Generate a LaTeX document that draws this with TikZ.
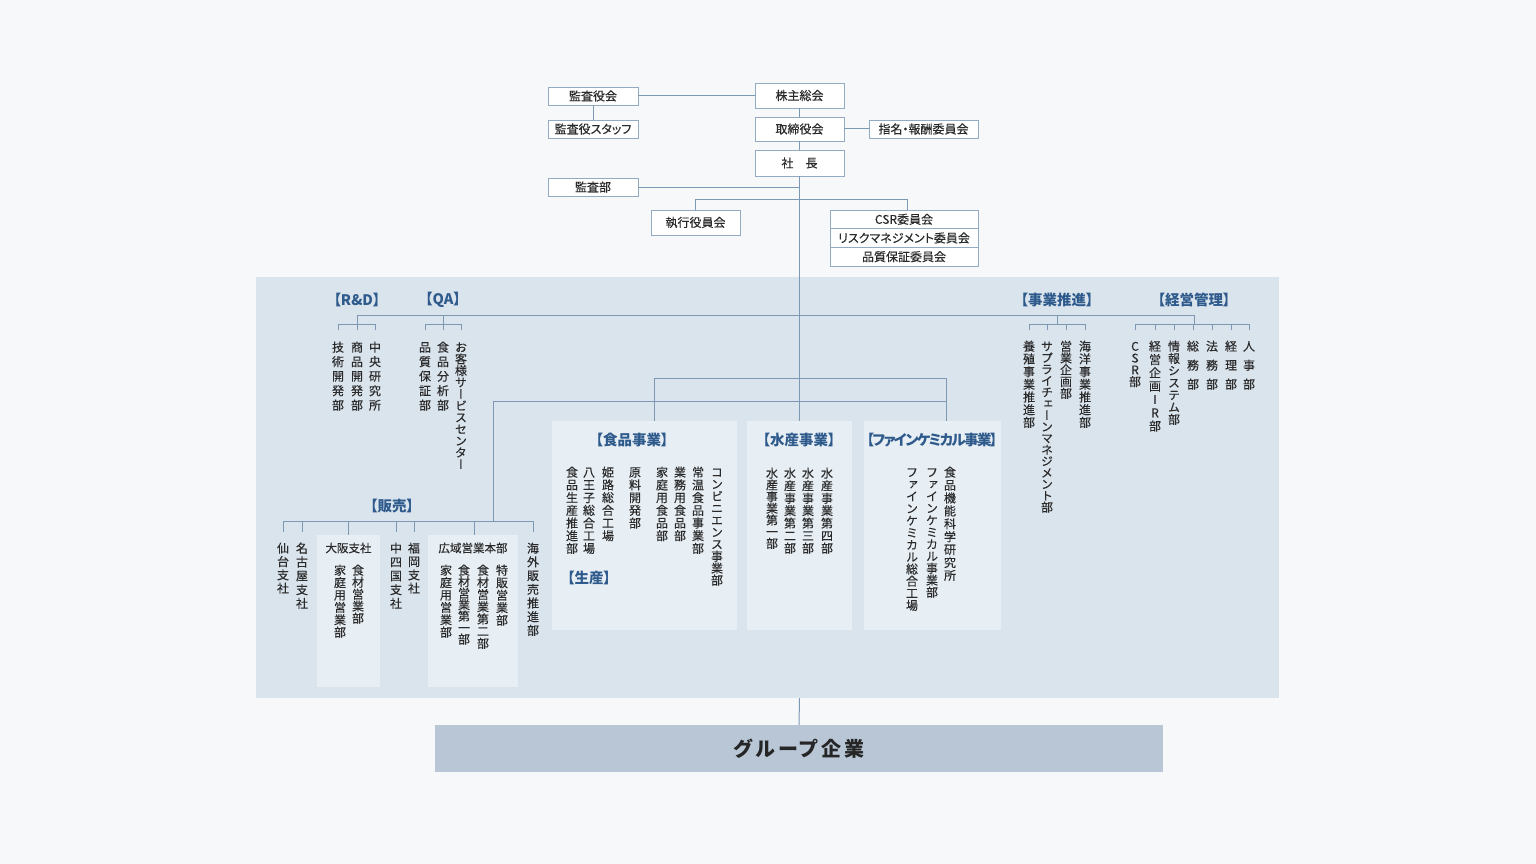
\documentclass[tikz,border=0pt]{standalone}
\usepackage{fontspec}
\setmainfont{Noto Sans CJK JP}
\newfontfamily\vjp[RawFeature=+vert,FakeBold=0.25]{Noto Sans CJK JP}
\newfontfamily\pjp[RawFeature=+palt]{Noto Sans CJK JP}
\newfontfamily\tjp[RawFeature=+palt,FakeBold=0.2]{Noto Sans CJK JP}
\definecolor{bgc}{HTML}{F7F8FA}
\definecolor{panelc}{HTML}{DAE4ED}
\definecolor{innerc}{HTML}{E7EEF4}
\definecolor{lnc}{HTML}{7D98B3}
\definecolor{boxb}{HTML}{93AAC3}
\definecolor{txtc}{HTML}{2A2A2A}
\definecolor{labc}{HTML}{2E5A8C}
\definecolor{grpc}{HTML}{B8C6D6}
\makeatletter
\newcommand\vt[2][12.7]{\vbox{\baselineskip=#1pt\lineskiplimit=-\maxdimen\lineskip=0pt\@tfor\vch:=#2\do{\hbox to 1em{\hss\vrule height .88em depth .12em width 0pt\vch\hss}}}}
\makeatother
\newcommand\vnode[5]{\node[vl] (#1) at (#2,#3-6) {\vt[#4]{#5}};}
\begin{document}
\begin{tikzpicture}[x=1pt,y=-1pt,
 ln/.style={draw=lnc,line width=1pt},
 tb/.style={draw=boxb,fill=white,line width=0.9pt,inner sep=0,text=txtc,font=\tjp\fontsize{12}{14}\selectfont},
 lab/.style={text=labc,inner sep=0,font=\pjp\bfseries\fontsize{14.5}{16}\selectfont},
 vl/.style={anchor=north,inner sep=0,text=txtc,font=\vjp\fontsize{12}{12}\selectfont},
 inbox/.style={fill=innerc,draw=none,inner sep=0},
 hl/.style={text=txtc,inner sep=0,font=\tjp\fontsize{11.5}{13}\selectfont}
]
\fill[bgc] (0,0) rectangle (1536,864);
\useasboundingbox (0,0) rectangle (1536,864);
% panel and inner boxes
\node[fill=panelc,minimum width=1023,minimum height=421,inner sep=0] (panel) at (767.5,487.5) {};
\node[inbox,minimum width=185,minimum height=209] (shokuhin) at (644.5,525.5) {};
\node[inbox,minimum width=105,minimum height=209] (suisan) at (799.5,525.5) {};
\node[inbox,minimum width=137,minimum height=209] (fine) at (932.5,525.5) {};
\node[inbox,minimum width=63,minimum height=152] (osaka) at (348.5,611) {};
\node[inbox,minimum width=90,minimum height=152] (koiki) at (473,611) {};
% top boxes
\node[tb,minimum width=90,minimum height=18] (kansayaku) at (593,96) {監査役会};
\node[tb,minimum width=90,minimum height=18] (kstaff) at (593,129) {監査役スタッフ};
\node[tb,minimum width=89,minimum height=25] (kabu) at (799.5,95.5) {株主総会};
\node[tb,minimum width=89,minimum height=24] (tori) at (799.5,129) {取締役会};
\node[tb,minimum width=109,minimum height=18] (shimei) at (923.5,129) {指名・報酬委員会};
\node[tb,minimum width=89,minimum height=26] (shacho) at (799.5,163) {社　長};
\node[tb,minimum width=90,minimum height=18] (kansabu) at (593,187) {監査部};
\node[tb,minimum width=89,minimum height=25] (shikko) at (695.5,222.5) {執行役員会};
\node[tb,minimum width=148,minimum height=18.7] (csr) at (904,219.3) {CSR委員会};
\node[tb,minimum width=148,minimum height=18.7] (risk) at (904,238) {リスクマネジメント委員会};
\node[tb,minimum width=148,minimum height=18.7] (hq) at (904,256.7) {品質保証委員会};
% group
\node[fill=grpc,minimum width=728,minimum height=47,inner sep=0,text=black!85,font=\pjp\bfseries\fontsize{20}{24}\selectfont\addfontfeature{LetterSpace=15}] (group) at (799,748.5) {グループ企業};
% top connectors
\draw[ln] (kansayaku.east) -- (kansayaku.east -| kabu.west);
\draw[ln] (kansayaku.south) -- (kstaff.north);
\draw[ln] (kabu.south) -- (tori.north);
\draw[ln] (tori.east) -- (shimei.west);
\draw[ln] (tori.south) -- (shacho.north);
\draw[ln] (kansabu.east) -- (kansabu.east -| shacho.south);
\coordinate (csrtop) at (907,209.95);
\draw[ln] (shikko.north) -- ++(0,-10) -| (csrtop);
\draw[ln] (shacho.south) -- (shacho.south |- suisan.north);
\draw[ln] (shacho.south |- panel.south) -- (group.north);
% labels
\node[lab] (rd) at (357,300) {【R\&D】};
\node[lab] (qa) at (443,300) {【QA】};
\node[lab] (js) at (1057,300) {【事業推進】};
\node[lab] (kk) at (1194,300) {【経営管理】};
\node[lab] (skl) at (632,440) {【食品事業】};
\node[lab] (sei) at (589,578) {【生産】};
\node[lab] (ssl) at (799,440) {【水産事業】};
\node[lab,font=\pjp\bfseries\fontsize{14.5}{16}\selectfont\addfontfeature{LetterSpace=-11}] (fcl) at (932,440) {【ファインケミカル事業】};
\node[lab] (hbl) at (392,506) {【販売】};
% vertical texts upper
\vnode{rd1}{338}{347}{14.5}{技術開発部}
\vnode{rd2}{357}{347}{14.5}{商品開発部}
\vnode{rd3}{375}{347}{14.5}{中央研究所}
\vnode{qa1}{425}{347}{14.5}{品質保証部}
\vnode{qa2}{443}{347}{14.5}{食品分析部}
\vnode{qa3}{461}{347}{11.7}{お客様サービスセンター}
\vnode{js1}{1029}{346}{12.7}{養殖事業推進部}
\vnode{js2}{1047}{346}{11.5}{サプライチェーンマネジメント部}
\vnode{js3}{1066}{346}{11.8}{営業企画部}
\vnode{js4}{1085}{346}{12.7}{海洋事業推進部}
\vnode{kk1}{1135}{346}{11.8}{CSR部}
\vnode{kk2}{1155}{346}{13.3}{経営企画IR部}
\vnode{kk3}{1174}{346}{12.2}{情報システム部}
\vnode{kk4}{1193}{346}{19}{総務部}
\vnode{kk5}{1212}{346}{19}{法務部}
\vnode{kk6}{1231}{346}{19}{経理部}
\vnode{kk7}{1249}{346}{19}{人事部}
% food
\vnode{sk1}{572}{472}{12.7}{食品生産推進部}
\vnode{sk2}{589}{472}{12.7}{八王子総合工場}
\vnode{sk3}{608}{472}{12.7}{姫路総合工場}
\vnode{sk4}{635}{472}{12.7}{原料開発部}
\vnode{sk5}{662}{472}{12.7}{家庭用食品部}
\vnode{sk6}{680}{472}{12.7}{業務用食品部}
\vnode{sk7}{698}{472}{12.7}{常温食品事業部}
\vnode{sk8}{717}{472}{12}{コンビニエンス事業部}
% marine
\vnode{ss1}{772}{473}{11.7}{水産事業第一部}
\vnode{ss2}{790}{473}{12.5}{水産事業第二部}
\vnode{ss3}{808}{473}{12.5}{水産事業第三部}
\vnode{ss4}{827}{473}{12.5}{水産事業第四部}
% fine chemical
\vnode{fc1}{912}{472}{12.1}{ファインケミカル総合工場}
\vnode{fc2}{932}{472}{12}{ファインケミカル事業部}
\vnode{fc3}{950}{472}{12.9}{食品機能科学研究所}
% sales
\vnode{hb1}{283}{548}{13.3}{仙台支社}
\vnode{hb2}{302}{548}{13.8}{名古屋支社}
\node[hl] (osakat) at (348.5,548) {大阪支社};
\vnode{hb3}{340}{570}{12.4}{家庭用営業部}
\vnode{hb4}{358}{570}{12}{食材営業部}
\vnode{hb5}{396}{548}{13.8}{中四国支社}
\vnode{hb6}{414}{548}{13.3}{福岡支社}
\node[hl] (koikit) at (473,548) {広域営業本部};
\vnode{hb7}{446}{570}{12.4}{家庭用営業部}
\vnode{hb8}{464}{570}{11.5}{食材営業第一部}
\vnode{hb9}{483}{570}{12.2}{食材営業第二部}
\vnode{hb10}{502}{570}{12.5}{特販営業部}
\vnode{hb11}{533}{548}{13.7}{海外販売推進部}
% main horizontal in panel
\coordinate (mL) at (357,315);
\coordinate (mR) at (1194,315);
\draw[ln] (mL) -- (mR);
\coordinate (subbar) at (0,324);
% R&D
\draw[ln] (rd.south |- mL) -- (rd.south |- subbar);
\draw[ln] (rd1.north |- subbar) -- (rd3.north |- subbar);
\foreach \n in {rd1,rd2,rd3} \draw[ln] (\n.north |- 0,330) -- (\n.north |- subbar);
% QA
\draw[ln] (qa.south |- mL) -- (qa.south |- subbar);
\draw[ln] (qa1.north |- subbar) -- (qa3.north |- subbar);
\foreach \n in {qa1,qa2,qa3} \draw[ln] (\n.north |- 0,330) -- (\n.north |- subbar);
% jigyo suishin
\draw[ln] (js.south |- mL) -- (js.south |- subbar);
\draw[ln] (js1.north |- subbar) -- (js4.north |- subbar);
\foreach \n in {js1,js2,js3,js4} \draw[ln] (\n.north |- 0,330) -- (\n.north |- subbar);
% keiei kanri
\draw[ln] (kk.south |- mL) -- (kk.south |- subbar);
\draw[ln] (kk1.north |- subbar) -- (kk7.north |- subbar);
\foreach \n in {kk1,kk2,kk3,kk4,kk5,kk6,kk7} \draw[ln] (\n.north |- 0,330) -- (\n.north |- subbar);
% business divisions
\coordinate (a1) at (654,378);
\coordinate (a2) at (946,378);
\coordinate (b1) at (493,401);
\coordinate (b2) at (946,401);
\draw[ln] (a1) -- (a2);
\draw[ln] (a1) -- (a1 |- shokuhin.north);
\draw[ln] (a2) -- (a2 |- fine.north);
\draw[ln] (b1) -- (b2);
% sales
\coordinate (hbar) at (0,521);
\draw[ln] (b1) -- (b1 |- hbar);
\draw[ln] (hb1.north |- hbar) -- (hb11.north |- hbar);
\foreach \n in {hb1,hb2,hb5,hb6,hb11} \draw[ln] (\n.north |- 0,532) -- (\n.north |- hbar);
\draw[ln] (osaka.north |- hbar) -- (osaka.north);
\draw[ln] (474,0 |- hbar) -- (474,0 |- koiki.north);
\end{tikzpicture}
\end{document}
